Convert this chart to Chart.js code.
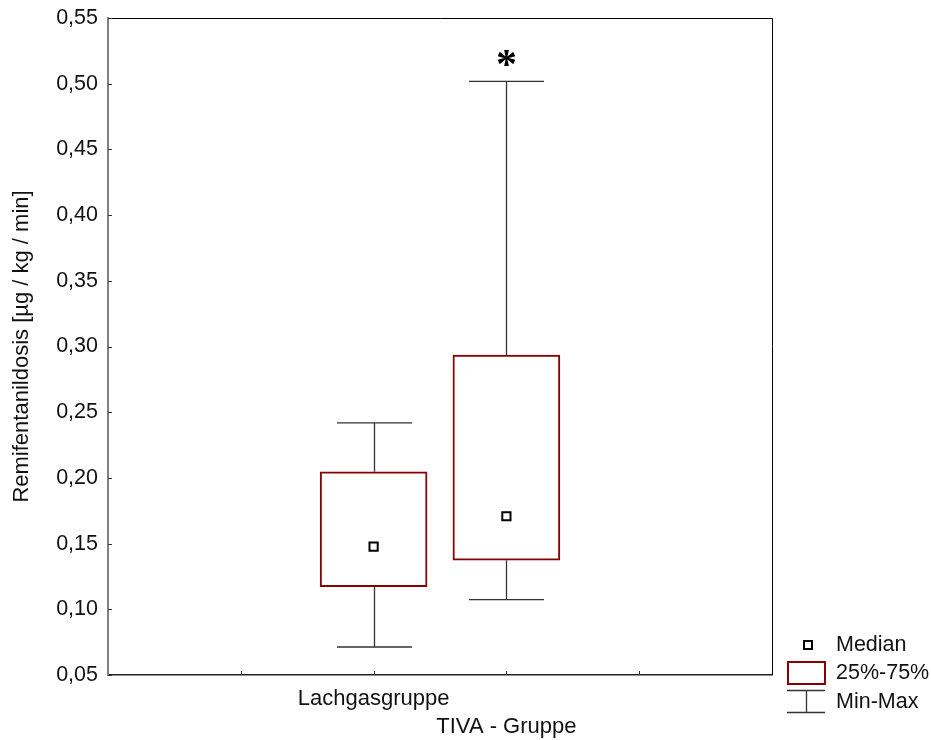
<!DOCTYPE html>
<html><head><meta charset="utf-8">
<script src="https://cdn.jsdelivr.net/npm/chart.js@4.4.1/dist/chart.umd.min.js"></script>
<style>html,body{margin:0;padding:0;background:#fff;}#wrap{width:931px;height:740px;}</style>
</head><body><div id="wrap"><canvas id="c" width="931" height="740"></canvas></div>
<script>
const categories = ['Lachgasgruppe', 'TIVA - Gruppe'];
const minValues = [0.0713, 0.1073];
const q1Values = [0.1172, 0.1373];
const medianValues = [0.1477, 0.1708];
const q3Values = [0.2047, 0.2935];
const maxValues = [0.2418, 0.5018];
const significance = ['', '*'];
const yMin = 0.05, yMax = 0.55, yStep = 0.05;
const yTitle = 'Remifentanildosis [µg / kg / min]';
const legendLabels = ['Median', '25%-75%', 'Min-Max'];

const axisLabels = ['', '', ...categories, '', ''];
const FONT = "'Liberation Sans', Arial, sans-serif";
const RED = '#880000';
const TXT = '#111';

const boxPlugin = {
  id: 'boxParts',
  beforeDatasetsDraw(chart) {
    const xs = chart.scales.x, ys = chart.scales.y, ctx = chart.ctx;
    ctx.save();
    ctx.strokeStyle = '#333';
    ctx.lineWidth = 1.3;
    categories.forEach((cat, i) => {
      const x = Math.round(xs.getPixelForValue(axisLabels.indexOf(cat))) + 0.5;
      const yMn = ys.getPixelForValue(minValues[i]);
      const yMx = ys.getPixelForValue(maxValues[i]);
      const yQ1 = ys.getPixelForValue(q1Values[i]);
      const yQ3 = ys.getPixelForValue(q3Values[i]);
      ctx.beginPath();
      ctx.moveTo(x, yQ1); ctx.lineTo(x, yMn);
      ctx.moveTo(x - 37.5, yMn); ctx.lineTo(x + 37.5, yMn);
      ctx.moveTo(x, yQ3); ctx.lineTo(x, yMx);
      ctx.moveTo(x - 37.5, yMx); ctx.lineTo(x + 37.5, yMx);
      ctx.stroke();
    });
    ctx.restore();
  },
  afterDatasetsDraw(chart) {
    const xs = chart.scales.x, ys = chart.scales.y, ctx = chart.ctx;
    ctx.save();
    ctx.fillStyle = '#000';
    ctx.font = "bold 42px 'Liberation Serif', 'Times New Roman', serif";
    ctx.textAlign = 'center';
    ctx.textBaseline = 'alphabetic';
    categories.forEach((cat, i) => {
      if (!significance[i]) return;
      const x = xs.getPixelForValue(axisLabels.indexOf(cat));
      const y = ys.getPixelForValue(maxValues[i]);
      ctx.fillText(significance[i], x, y - 3);
    });
    ctx.restore();
  },
  afterDraw(chart) {
    const ctx = chart.ctx, a = chart.chartArea;
    const xs = chart.scales.x, ys = chart.scales.y;
    ctx.save();
    // frame top / right
    ctx.strokeStyle = '#000';
    ctx.lineWidth = 1;
    ctx.beginPath();
    ctx.moveTo(a.left, a.top + 0.5); ctx.lineTo(a.right + 0.5, a.top + 0.5);
    ctx.lineTo(a.right + 0.5, a.bottom);
    ctx.stroke();
    // inward ticks
    ctx.strokeStyle = '#333';
    ctx.beginPath();
    ys.ticks.forEach(t => {
      const y = Math.round(ys.getPixelForValue(t.value)) + 0.5;
      ctx.moveTo(a.left, y); ctx.lineTo(a.left + 4, y);
    });
    xs.ticks.forEach((t, i) => {
      if (i === 0 || i === xs.ticks.length - 1) return;
      const x = Math.round(xs.getPixelForValue(t.value)) + 0.5;
      ctx.moveTo(x, a.bottom); ctx.lineTo(x, a.bottom - 4);
    });
    ctx.stroke();
    // legend
    const lx = 787, tx = 836;
    ctx.font = '21.5px ' + FONT;
    ctx.textBaseline = 'middle';
    ctx.textAlign = 'left';
    ctx.strokeStyle = '#000';
    ctx.lineWidth = 2;
    ctx.fillStyle = '#fff';
    ctx.fillRect(804, 641, 8, 8);
    ctx.strokeRect(804, 641, 8, 8);
    ctx.fillStyle = TXT;
    ctx.fillText(legendLabels[0], tx, 645);
    ctx.strokeStyle = RED;
    ctx.lineWidth = 2;
    ctx.strokeRect(lx + 1, 662, 37, 22);
    ctx.fillText(legendLabels[1], tx, 673);
    ctx.strokeStyle = '#333';
    ctx.lineWidth = 1.3;
    ctx.beginPath();
    ctx.moveTo(lx, 690.5); ctx.lineTo(lx + 38, 690.5);
    ctx.moveTo(lx, 712.5); ctx.lineTo(lx + 38, 712.5);
    ctx.moveTo(806.5, 690.5); ctx.lineTo(806.5, 712.5);
    ctx.stroke();
    ctx.fillText(legendLabels[2], tx, 702);
    ctx.restore();
  }
};

new Chart(document.getElementById('c'), {
  type: 'bar',
  data: {
    labels: axisLabels,
    datasets: [
      {
        type: 'scatter',
        label: legendLabels[0],
        order: 0,
        data: categories.map((c, i) => ({ x: c, y: medianValues[i] })),
        pointStyle: 'rect',
        pointRadius: 5.8,
        pointHoverRadius: 5.8,
        pointBackgroundColor: '#fff',
        pointBorderColor: '#000',
        pointBorderWidth: 2
      },
      {
        type: 'bar',
        label: legendLabels[1],
        order: 1,
        data: categories.map((c, i) => ({ x: c, y: [q1Values[i], q3Values[i]] })),
        backgroundColor: '#fff',
        borderColor: RED,
        borderWidth: 2,
        borderSkipped: false,
        barThickness: 107,
        grouped: false
      }
    ]
  },
  options: {
    responsive: false,
    animation: false,
    devicePixelRatio: 1,
    layout: { padding: { top: 18, right: 159, left: 0, bottom: 0 } },
    plugins: { legend: { display: false }, tooltip: { enabled: false } },
    scales: {
      x: {
        type: 'category',
        labels: axisLabels,
        offset: false,
        grid: { display: false, drawTicks: false },
        border: { color: '#222', width: 1.5 },
        ticks: {
          autoSkip: false,
          maxRotation: 0,
          padding: 10,
          color: TXT,
          font: { family: FONT, size: 22, lineHeight: 1.27 },
          callback(v, i) {
            const lab = axisLabels[i];
            const k = categories.indexOf(lab);
            return (k % 2 === 1) ? ['', lab] : lab;
          }
        },
        afterFit(s) { s.height = 65; s.paddingLeft = 0; s.paddingRight = 0; }
      },
      y: {
        type: 'linear',
        min: yMin,
        max: yMax,
        grid: { display: false, drawTicks: false },
        border: { color: '#808080', width: 2 },
        ticks: {
          stepSize: yStep,
          padding: 10,
          color: TXT,
          font: { family: FONT, size: 21.5 },
          callback: v => v.toFixed(2).replace('.', ',')
        },
        title: {
          display: true,
          text: yTitle,
          color: TXT,
          font: { family: FONT, size: 22 },
          padding: { top: 9, bottom: 0 }
        },
        afterFit(s) { s.width = 108; s.paddingTop = 0; s.paddingBottom = 0; }
      }
    }
  },
  plugins: [boxPlugin]
});
</script></body></html>
